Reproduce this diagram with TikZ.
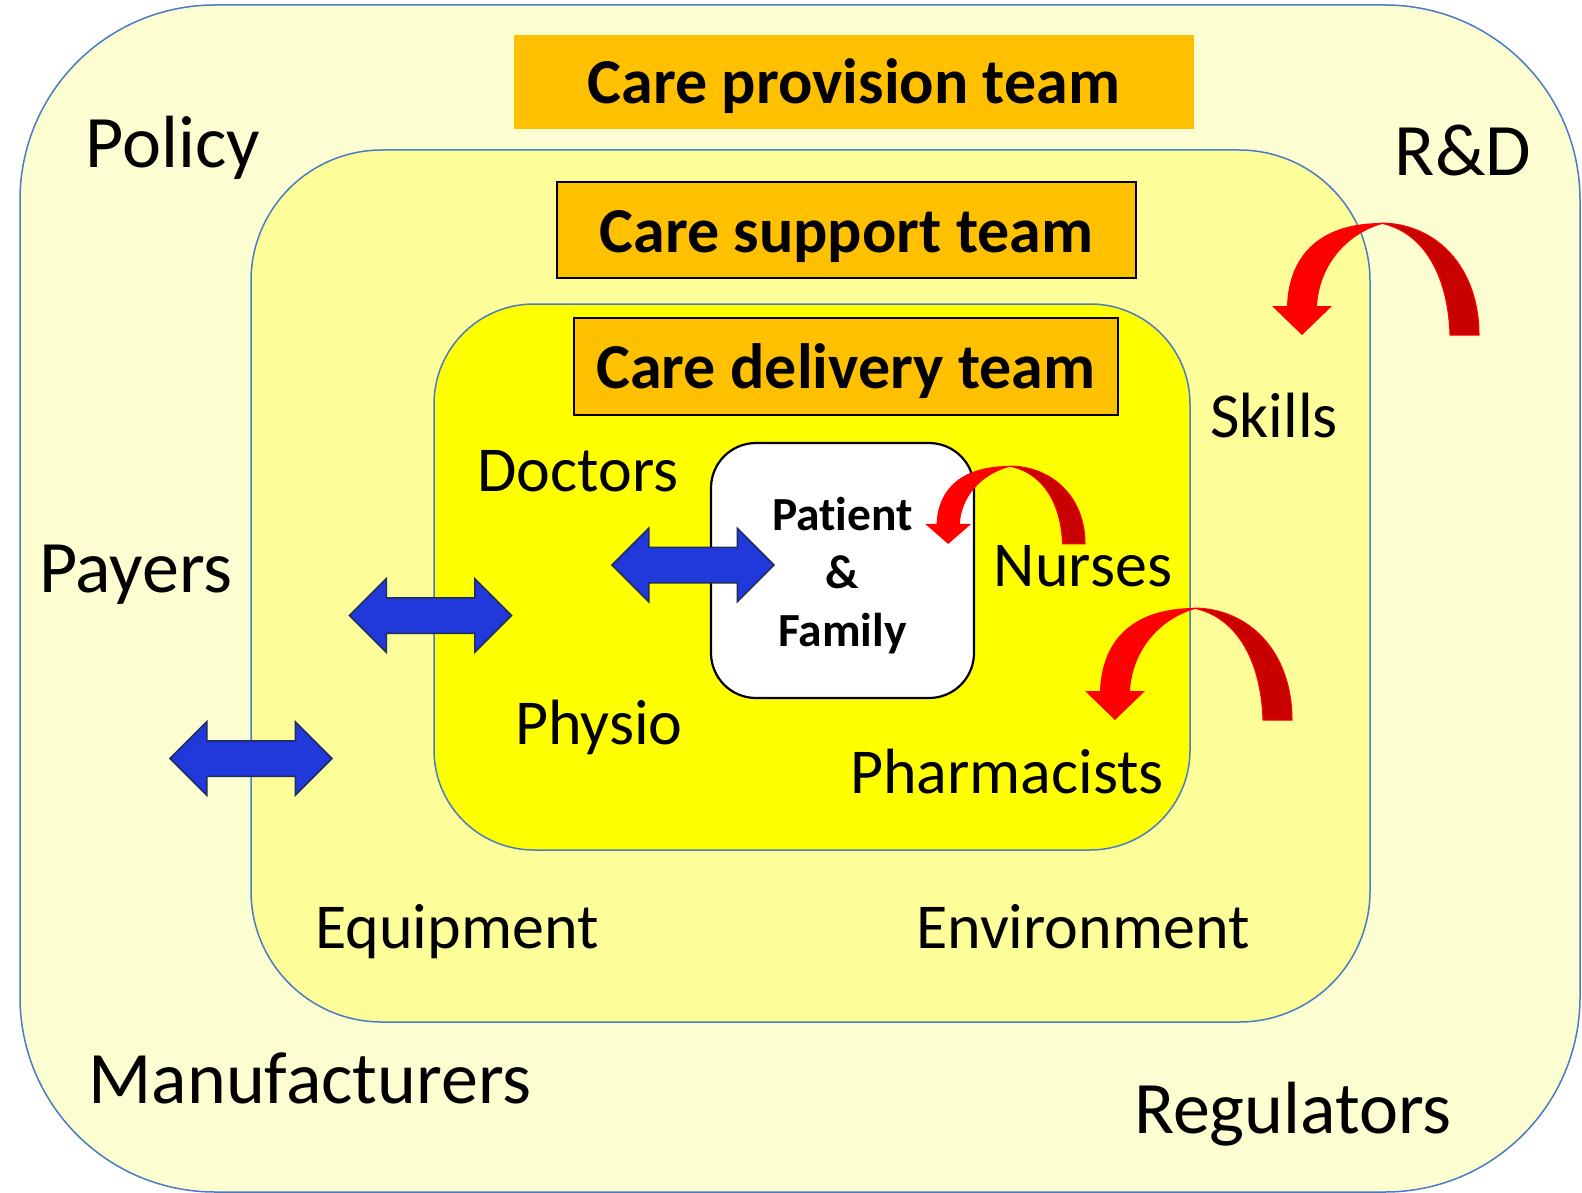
\documentclass[tikz,border=0pt]{standalone}
\usepackage{fontspec}
\setmainfont{Carlito}[Ligatures=NoCommon]
\usepackage{xcolor}
\usepackage{tikz}
\usetikzlibrary{positioning,shapes.arrows}
\definecolor{outerfill}{HTML}{FDFDD2}
\definecolor{midfill}{HTML}{FDFD99}
\definecolor{innerfill}{HTML}{FFFF00}
\definecolor{ringblue}{HTML}{4A7CC4}
\definecolor{teamorange}{HTML}{FFC000}
\definecolor{arrowblue}{HTML}{2139DA}
\definecolor{arrownavy}{HTML}{1F2D5C}
\definecolor{backred}{HTML}{C80000}
\tikzstyle{ring} = [draw=ringblue, line width=1.5pt]
\tikzstyle{teambox} = [rectangle, fill=teamorange, draw=black, line width=1.2pt, inner sep=0pt, text height=50pt, text depth=6pt, font=\fontsize{64}{70}\selectfont\bfseries]
\tikzstyle{biglabel} = [anchor=base, inner sep=0pt, font=\fontsize{74}{80}\selectfont]
\tikzstyle{midlabel} = [anchor=base, inner sep=0pt, font=\fontsize{64}{70}\selectfont]
\tikzstyle{twoway} = [double arrow, double arrow head extend=19pt, minimum width=72pt, minimum height=162pt, inner xsep=0pt, inner ysep=17pt, fill=arrowblue, draw=arrownavy, line width=1.5pt]
% 弯箭头, 参数: x, y, xscale, yscale
\newcommand{\bendarrow}[4]{%
  \begin{scope}[shift={(#1,#2)}, xscale=#3, yscale=#4]
    \fill[backred, draw=red, line width=1pt] (108,0) .. controls (165,0) and (207,45) .. (207,112) -- (178,112) .. controls (176,50) and (150,8) .. (108,0) -- cycle;
    \fill[red] (110,0) .. controls (50,0) and (17,30) .. (15,83) -- (0,83) -- (30,112) -- (60,83) -- (45,83) .. controls (47,45) and (72,12) .. (110,1) -- cycle;
  \end{scope}}

\begin{document}
\begin{tikzpicture}[x=1pt, y=-1pt]
  \useasboundingbox (0,0) rectangle (1582,1193);
  %三层圆角框
  \draw[ring, fill=outerfill, rounded corners=195pt] (20,5) rectangle (1580,1192);
  \draw[ring, fill=midfill, rounded corners=131pt] (251,150) rectangle (1370,1022);
  \draw[ring, fill=innerfill, rounded corners=100pt] (434,304) rectangle (1190,850);

  \node[teambox, draw=none, minimum width=680pt, minimum height=94pt] (provision) at (854,82) {Care provision team};
  \node[teambox, minimum width=579pt, minimum height=96pt] (support) at (846.5,230) {Care support team};
  \node[teambox, minimum width=544pt, minimum height=97pt] (delivery) at (846,366.5) {Care delivery team};

  \node[biglabel] (policy) at (173,168) {Policy};
  \node[biglabel] (rnd) at (1463,176) {R\&D};
  \node[biglabel] (payers) at (136,592) {Payers};
  \node[biglabel] (makers) at (310,1103) {Manufacturers};
  \node[biglabel] (regulators) at (1293,1133) {Regulators};

  \node[midlabel] (skills) at (1274,437) {Skills};
  \node[midlabel] (equipment) at (457,948) {Equipment};
  \node[midlabel] (environment) at (1083,948) {Environment};
  \node[midlabel] (doctors) at (578,491) {Doctors};
  \node[midlabel] (nurses) at (1083,586) {Nurses};
  \node[midlabel] (physio) at (599,744) {Physio};
  \node[midlabel] (pharmacists) at (1007,793) {Pharmacists};

  \node[rectangle, rounded corners=45pt, fill=white, draw=black, line width=2.2pt, minimum width=263pt, minimum height=255pt] (patient) at (842.5,570.5) {};
  \node[align=center, inner sep=0pt, yshift=-5pt, font=\fontsize{47.5}{58}\selectfont\bfseries] (patienttext) at (patient.center) {Patient\\\&\\Family};

  %双向箭头
  \node[twoway] (linkA) at (693,565) {};
  \node[twoway] (linkB) at (430.5,615.5) {};
  \node[twoway] (linkC) at (251,758.5) {};

  %弯箭头
  \bendarrow{1272}{223}{1}{1}
  \bendarrow{1085}{608}{1}{1}
  \bendarrow{925}{466}{0.773}{0.696}
\end{tikzpicture}
\end{document}
